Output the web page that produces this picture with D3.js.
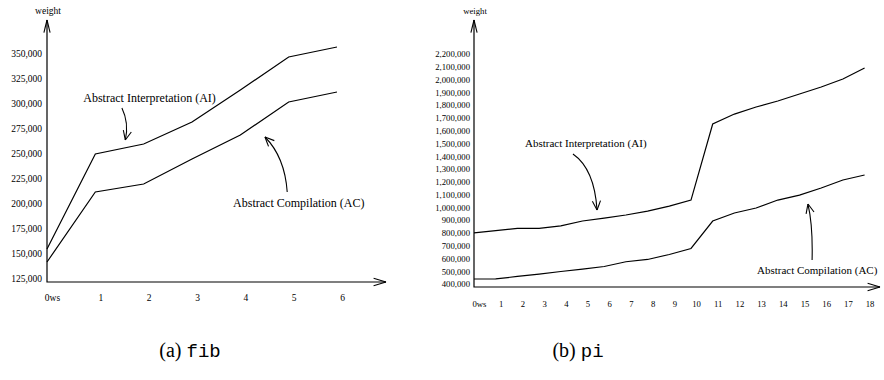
<!DOCTYPE html>
<html>
<head>
<meta charset="utf-8">
<script src="https://cdn.jsdelivr.net/npm/d3@7/dist/d3.min.js"></script>
<style>
  body { margin: 0; background: #fff; }
</style>
</head>
<body>
<div id="root"></div>
<script>
// (a) fib
const fibSteps = ["0ws", "1", "2", "3", "4", "5", "6"];
const fibAI = [154000, 249000, 259000, 281000, 313000, 346000, 356000];
const fibAC = [141000, 211000, 219000, 244000, 268000, 301000, 311000];
const fibTicks = [125000, 150000, 175000, 200000, 225000, 250000, 275000, 300000, 325000, 350000];

// (b) pi
const piSteps = ["0ws", "1", "2", "3", "4", "5", "6", "7", "8", "9", "10",
                 "11", "12", "13", "14", "15", "16", "17", "18"];
const piAI = [800000, 818000, 835000, 835000, 855000, 893000, 916000, 940000, 971000, 1010000,
              1057000, 1652000, 1730000, 1785000, 1832000, 1887000, 1942000, 2004000, 2090000];
const piAC = [439000, 440000, 459000, 478000, 498000, 517000, 537000, 574000, 592000, 631000,
              678000, 893000, 956000, 995000, 1057000, 1096000, 1151000, 1214000, 1253000];
const piTicks = [400000, 500000, 600000, 700000, 800000, 900000, 1000000, 1100000, 1200000,
                 1300000, 1400000, 1500000, 1600000, 1700000, 1800000, 1900000, 2000000,
                 2100000, 2200000];

const serif = "'Liberation Serif', 'Times New Roman', Times, serif";
const mono = "'Liberation Mono', 'DejaVu Sans Mono', monospace";

const svg = d3.select("#root")
  .append("svg")
    .attr("width", 884)
    .attr("height", 380)
    .style("font-family", serif);

// open arrow head, two strokes ending at the tip
function arrowHead(g, tip, from, len, spread) {
  const a = Math.atan2(tip[1] - from[1], tip[0] - from[0]);
  [-spread, spread].forEach(s => {
    g.append("line")
      .attr("x1", tip[0] - len * Math.cos(a + s))
      .attr("y1", tip[1] - len * Math.sin(a + s))
      .attr("x2", tip[0])
      .attr("y2", tip[1])
      .attr("stroke", "#000")
      .attr("stroke-width", 1.1);
  });
}

function panel(c) {
  const g = svg.append("g");

  const x = d3.scaleLinear().domain([0, c.steps.length - 1]).range(c.xRange);
  const y = d3.scaleLinear().domain(c.yDomain).range(c.yRange);

  const x0 = c.xRange[0];

  // axes with arrows
  g.append("path")
    .attr("d", `M${x0},${c.top}V${c.base}H${c.right}`)
    .attr("fill", "none")
    .attr("stroke", "#000")
    .attr("stroke-width", 1.2);
  arrowHead(g, [x0, c.top], [x0, c.top + 10], 13, 0.24);
  arrowHead(g, [c.right, c.base], [c.right - 10, c.base], 13, 0.3);

  g.append("text")
    .text("weight")
    .attr("x", x0 + 1)
    .attr("y", 14)
    .attr("text-anchor", "middle")
    .style("font-family", serif)
    .style("font-size", c.tickFont + "px");

  // tick labels only
  g.append("g")
    .attr("transform", `translate(${x0},0)`)
    .call(d3.axisLeft(y).tickValues(c.ticks).tickFormat(d3.format(",")).tickSize(0).tickPadding(c.yPad))
    .call(a => a.select(".domain").remove())
    .selectAll("text")
      .style("font-family", serif)
      .style("font-size", c.tickFont + "px");

  g.append("g")
    .attr("transform", `translate(${c.xShift},${c.base})`)
    .call(d3.axisBottom(x).tickValues(d3.range(c.steps.length)).tickFormat(i => c.steps[i])
      .tickSize(0).tickPadding(c.xPad))
    .call(a => a.select(".domain").remove())
    .selectAll("text")
      .style("font-family", serif)
      .style("font-size", c.tickFont + "px");

  const lineGen = d3.line()
    .x((d, i) => x(i))
    .y(d => y(d));

  g.selectAll("path.series")
    .data([c.ai, c.ac])
    .enter()
    .append("path")
      .attr("class", "series")
      .attr("d", d => lineGen(d))
      .attr("fill", "none")
      .attr("stroke", "#000")
      .attr("stroke-width", 1.2);

  // labels with curved pointers (positions in data units)
  c.notes.forEach(n => {
    g.append("text")
      .text(n.text)
      .attr("x", x(n.at[0]))
      .attr("y", y(n.at[1]))
      .style("font-family", serif)
      .style("font-size", c.noteFont + "px");
    const p0 = [x(n.from[0]), y(n.from[1])];
    const pc = [x(n.ctrl[0]), y(n.ctrl[1])];
    const p1 = [x(n.tip[0]), y(n.tip[1])];
    g.append("path")
      .attr("d", `M${p0}Q${pc} ${p1}`)
      .attr("fill", "none")
      .attr("stroke", "#000")
      .attr("stroke-width", 1.1);
    arrowHead(g, p1, pc, 10, 0.42);
  });
}

panel({
  steps: fibSteps, ai: fibAI, ac: fibAC, ticks: fibTicks,
  xRange: [47, 337], yDomain: [125000, 350000], yRange: [278, 53],
  top: 20, base: 282, right: 386,
  tickFont: 9.5, noteFont: 12, yPad: 5, xPad: 12, xShift: 5,
  notes: [
    { text: "Abstract Interpretation (AI)", at: [0.75, 301000],
      from: [1.55, 295000], ctrl: [1.7, 280000], tip: [1.62, 263000] },
    { text: "Abstract Compilation (AC)", at: [3.85, 196000],
      from: [4.97, 211000], ctrl: [4.92, 246000], tip: [4.51, 266000] }
  ]
});

panel({
  steps: piSteps, ai: piAI, ac: piAC, ticks: piTicks,
  xRange: [474, 864.6], yDomain: [400000, 2200000], yRange: [284, 54],
  top: 20, base: 287, right: 880,
  tickFont: 8.7, noteFont: 11, yPad: 4, xPad: 14, xShift: 5,
  notes: [
    { text: "Abstract Interpretation (AI)", at: [2.35, 1472000],
      from: [4.56, 1417000], ctrl: [5.55, 1300000], tip: [5.67, 979000] },
    { text: "Abstract Compilation (AC)", at: [13.04, 478000],
      from: [15.58, 588000], ctrl: [15.62, 860000], tip: [15.39, 1026000] }
  ]
});

// sub-captions
const captions = [
  { tag: "(a)", name: "fib", cx: 190 },
  { tag: "(b)", name: "pi", cx: 578 }
];
captions.forEach(c => {
  const t = svg.append("text")
    .attr("x", c.cx)
    .attr("y", 357)
    .attr("text-anchor", "middle")
    .style("font-family", serif)
    .style("font-size", "20px");
  t.append("tspan").text(c.tag + " ");
  t.append("tspan").text(c.name)
    .style("font-family", mono)
    .style("font-size", "19px");
});
</script>
</body>
</html>
